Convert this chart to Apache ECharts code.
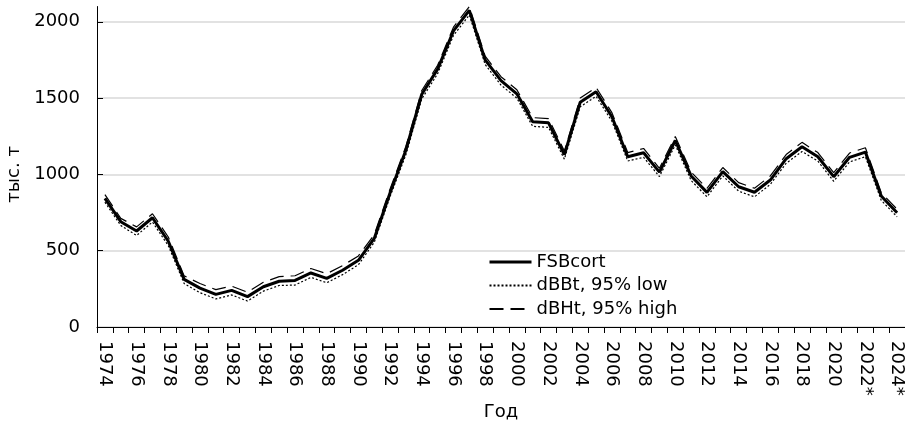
<!DOCTYPE html>
<html><head><meta charset="utf-8">
<script src="https://cdn.jsdelivr.net/npm/echarts@6/dist/echarts.min.js"></script>
<style>html,body{margin:0;padding:0;background:#fff}#c{width:905px;height:429px}</style>
</head><body><div id="c"></div>
<script>
const years = ["1974","1975","1976","1977","1978","1979","1980","1981","1982","1983",
  "1984","1985","1986","1987","1988","1989","1990","1991","1992","1993",
  "1994","1995","1996","1997","1998","1999","2000","2001","2002","2003",
  "2004","2005","2006","2007","2008","2009","2010","2011","2012","2013",
  "2014","2015","2016","2017","2018","2019","2020","2021","2022*","2023*","2024*"];
const fsbcort = [843,690,629,716,562,312,255,214,240,199,
  264,300,305,354,319,372,437,580,880,1160,
  1525,1690,1940,2075,1750,1615,1528,1345,1338,1130,
  1473,1542,1378,1116,1142,1015,1222,990,882,1018,
  919,883,963,1103,1181,1116,985,1112,1146,858,749];
const low95 = [818,665,600,688,533,285,225,184,210,170,
  235,272,275,325,290,343,408,555,855,1130,
  1495,1660,1910,2045,1720,1585,1500,1315,1308,1100,
  1443,1512,1348,1088,1112,986,1193,960,853,990,
  890,853,935,1073,1150,1087,955,1082,1116,830,722];
const high95 = [868,712,656,742,590,335,285,245,268,228,
  293,330,336,383,349,402,466,605,905,1185,
  1550,1715,1965,2100,1775,1640,1555,1372,1366,1153,
  1500,1570,1405,1143,1170,1040,1248,1016,908,1045,
  946,909,990,1130,1210,1143,1011,1140,1175,880,772];
const yTicks = [0, 500, 1000, 1500, 2000];
const yAxisTop = 2100;
const seriesNames = ["FSBcort", "dBBt, 95% low", "dBHt, 95% high"];

const FONT = "DejaVu Sans";
const chart = echarts.init(document.getElementById('c'), null, {renderer: 'canvas'});
const gridL = 97, gridR = 0, gridB = 102;
const gridTopMain = 21.8;
const plotBottom = 429 - gridB;
const fullH = (plotBottom - gridTopMain) * yAxisTop / yTicks[yTicks.length - 1];

chart.setOption({
  animation: false,
  backgroundColor: '#fff',
  textStyle: {fontFamily: FONT, color: '#000'},
  grid: [
    {left: gridL, right: gridR, top: gridTopMain, bottom: gridB, containLabel: false, outerBoundsMode: 'none'},
    {left: gridL, right: gridR, top: plotBottom - fullH, bottom: gridB, containLabel: false, outerBoundsMode: 'none'}
  ],
  legend: {
    orient: 'vertical', left: 488, top: 253, padding: 0,
    itemWidth: 42, itemHeight: 18, itemGap: 5.5,
    itemStyle: {opacity: 0},
    textStyle: {fontFamily: FONT, fontSize: 18, color: '#000'},
    data: [
      {name: seriesNames[0], lineStyle: {width: 3}},
      {name: seriesNames[1]},
      {name: seriesNames[2]}
    ]
  },
  xAxis: [{
    type: 'category', data: years, gridIndex: 0, boundaryGap: true,
    name: 'Год', nameLocation: 'middle', nameGap: 71,
    nameTextStyle: {fontFamily: FONT, fontSize: 18, color: '#000'},
    axisLine: {lineStyle: {color: '#000', width: 1}},
    axisTick: {show: true, interval: 0, length: 6, lineStyle: {color: '#000'}},
    axisLabel: {interval: 1, rotate: -90, margin: 14, fontFamily: FONT, fontSize: 18, color: '#000'},
    splitLine: {show: false}
  }, {
    type: 'value', gridIndex: 1, show: false
  }],
  yAxis: [{
    type: 'value', gridIndex: 0, min: yTicks[0], max: yTicks[yTicks.length - 1], interval: 500,
    name: 'тыс. т', nameLocation: 'middle', nameGap: 71,
    nameTextStyle: {fontFamily: FONT, fontSize: 18, color: '#000'},
    axisLine: {show: false},
    axisTick: {show: true, inside: true, length: 6, lineStyle: {color: '#000'}},
    axisLabel: {margin: 17, fontFamily: FONT, fontSize: 18, color: '#000',
      formatter: function (v) { return String(v); }},
    splitLine: {show: true, lineStyle: {color: '#d9d9d9', width: 1.5}}
  }, {
    type: 'value', gridIndex: 1, min: 0, max: yAxisTop,
    axisLine: {show: true, lineStyle: {color: '#000', width: 1}},
    axisTick: {show: false}, axisLabel: {show: false}, splitLine: {show: false}
  }],
  series: [
    {name: seriesNames[0], type: 'line', data: fsbcort, xAxisIndex: 0, yAxisIndex: 0,
     symbol: 'none', clip: false, z: 5,
     lineStyle: {color: '#000', width: 3, type: 'solid'}, itemStyle: {color: '#000'}},
    {name: seriesNames[1], type: 'line', data: low95, xAxisIndex: 0, yAxisIndex: 0,
     symbol: 'none', clip: false, z: 3,
     lineStyle: {color: '#000', width: 1.2, type: [2, 2]}, itemStyle: {color: '#000'}},
    {name: seriesNames[2], type: 'line', data: high95, xAxisIndex: 0, yAxisIndex: 0,
     symbol: 'none', clip: false, z: 3,
     lineStyle: {color: '#000', width: 1.2, type: [14, 7]}, itemStyle: {color: '#000'}}
  ]
});
</script>
</body></html>
